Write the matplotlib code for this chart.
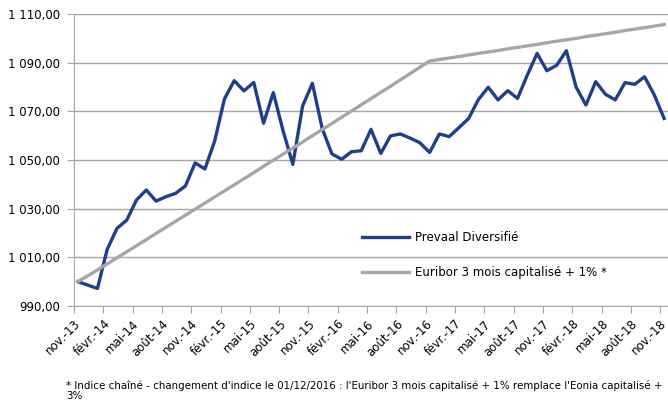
import numpy as np
import matplotlib
matplotlib.use("Agg")
import matplotlib.pyplot as plt
from matplotlib.ticker import FuncFormatter

plt.rcParams['font.family'] = ['DejaVu Sans']

## DATA ##
mois = ['nov.-13', 'févr.-14', 'mai-14', 'août-14', 'nov.-14', 'févr.-15', 'mai-15',
        'août-15', 'nov.-15', 'févr.-16', 'mai-16', 'août-16', 'nov.-16', 'févr.-17',
        'mai-17', 'août-17', 'nov.-17', 'févr.-18', 'mai-18', 'août-18', 'nov.-18']

prevaal = [1000.0, 998.6, 997.2, 1013.3, 1021.9, 1025.3, 1033.6, 1037.7, 1033.1, 1034.9,
           1036.3, 1039.3, 1048.8, 1046.3, 1057.8, 1075.1, 1082.6, 1078.4, 1081.9, 1065.1,
           1077.7, 1062.0, 1048.2, 1072.2, 1081.5, 1063.0, 1052.5, 1050.3, 1053.4, 1053.8,
           1062.6, 1052.7, 1059.9, 1060.7, 1059.0, 1057.1, 1053.1, 1060.7, 1059.6, 1063.3,
           1067.1, 1074.9, 1079.9, 1074.7, 1078.5, 1075.3, 1084.9, 1093.8, 1086.7, 1088.9,
           1094.9, 1079.9, 1072.6, 1082.2, 1077.0, 1074.7, 1081.8, 1081.1, 1084.2, 1076.7,
           1067.1]

euribor = [1000.0, 1002.4, 1004.8, 1007.3, 1009.8, 1012.3, 1014.8, 1017.3, 1019.8, 1022.3,
           1024.8, 1027.3, 1029.8, 1032.3, 1034.8, 1037.3, 1039.8, 1042.3, 1044.8, 1047.4,
           1049.9, 1052.4, 1054.9, 1057.4, 1060.0, 1062.5, 1065.0, 1067.6, 1070.1, 1072.7,
           1075.2, 1077.8, 1080.3, 1082.9, 1085.5, 1088.1, 1090.7, 1091.3, 1091.9, 1092.5,
           1093.2, 1093.8, 1094.4, 1095.0, 1095.7, 1096.3, 1096.9, 1097.5, 1098.2, 1098.8,
           1099.4, 1100.0, 1100.7, 1101.3, 1101.9, 1102.5, 1103.2, 1103.8, 1104.4, 1105.0,
           1105.7]

## PLOT ##
fig = plt.figure(figsize=(6.68, 4.03), dpi=100)
ax = fig.add_axes([74/668, 1-306/403, 594/668, 292/403])

x = np.arange(len(prevaal)) + 0.4
ax.plot(x, prevaal, color='#1f3f8a', lw=2.4, label='Prevaal Diversifié', solid_joinstyle='round')
ax.plot(x, euribor, color='#a6a6a6', lw=2.4, label='Euribor 3 mois capitalisé + 1% *')

ax.set_ylim(990, 1110)
ax.set_yticks(np.arange(990, 1111, 20))
ax.yaxis.set_major_formatter(FuncFormatter(
    lambda v, p: '{:,.2f}'.format(v).replace(',', ' ').replace('.', ',')))
ax.set_xlim(0, 60.8)
ax.set_xticks(np.arange(0, 61, 3))
ax.set_xticklabels(mois, rotation=45, ha='right', rotation_mode='anchor')

ax.grid(axis='y', color='#a6a6a6', lw=1)
ax.set_axisbelow(True)
for s in ['top', 'right']:
    ax.spines[s].set_visible(False)
for s in ['left', 'bottom']:
    ax.spines[s].set_color('#a6a6a6')
ax.tick_params(axis='both', colors='#a6a6a6', length=5, labelcolor='black', labelsize=8.5)
ax.tick_params(axis='y', pad=5)
ax.tick_params(axis='x', pad=3)

ax.legend(loc='upper left', bbox_to_anchor=(362/668, 1-231/403), bbox_transform=fig.transFigure,
          frameon=False, fontsize=8.5, handlelength=4.0, handletextpad=0.5,
          labelspacing=1.9, borderpad=0, borderaxespad=0)

fig.text(66/668, 1-399/403,
         "* Indice chaîné - changement d'indice le 01/12/2016 : l'Euribor 3 mois capitalisé + 1% remplace l'Eonia capitalisé +\n3%",
         fontsize=7.4, va='baseline', linespacing=0.95)

plt.savefig('out.png', dpi=100)
